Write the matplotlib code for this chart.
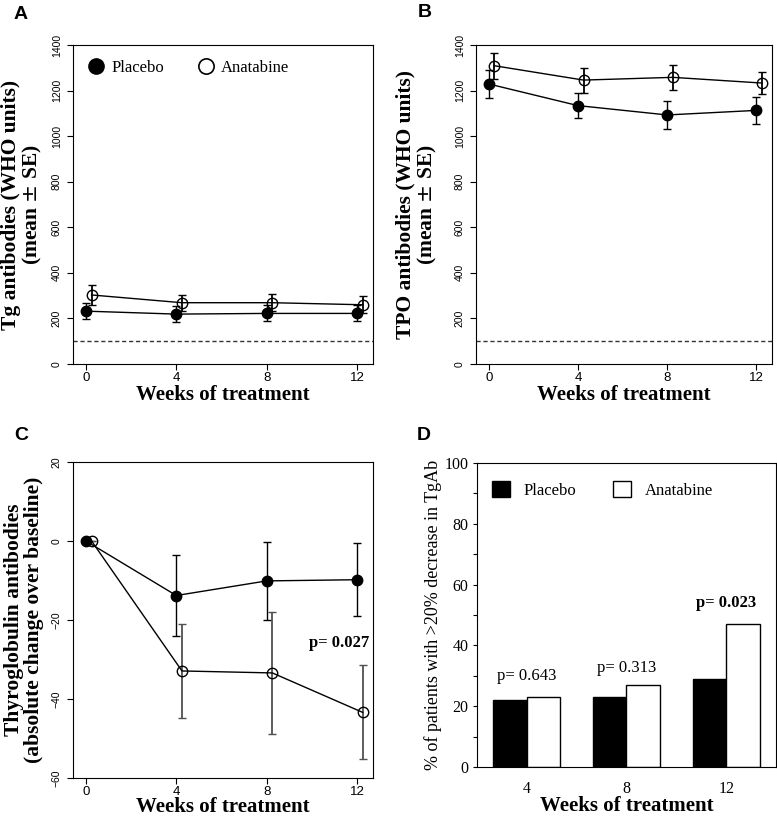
import matplotlib
matplotlib.use('Agg')
import matplotlib.pyplot as plt
from matplotlib.lines import Line2D
import numpy as np

# data
weeks = [0, 4, 8, 12]
shift = 0.25  # anatabine points drawn slightly to the right

tg_placebo = [232, 219, 222, 222]
tg_placebo_se = [36, 36, 35, 35]
tg_anat = [303, 269, 269, 260]
tg_anat_se = [42, 36, 37, 38]

tpo_placebo = [1229, 1134, 1093, 1113]
tpo_placebo_se = [61, 56, 60, 58]
tpo_anat = [1309, 1246, 1258, 1233]
tpo_anat_se = [57, 55, 56, 48]

chg_placebo = [0, -13.8, -10.1, -9.8]
chg_placebo_se = [0, 10.3, 9.8, 9.3]
chg_anat = [0, -32.9, -33.4, -43.4]
chg_anat_se = [0, 11.8, 15.5, 11.9]

bar_weeks = ['4', '8', '12']
pct_placebo = [22, 23, 29]
pct_anat = [23, 27, 47]
p_bars = ['p= 0.643', 'p= 0.313', 'p= 0.023']
p_bar_y = [30, 32.6, 54]

lod = 100  # dashed reference line

serif = 'Liberation Serif'
sans = 'Liberation Sans'

plt.rcParams['font.family'] = sans
plt.rcParams['axes.linewidth'] = 0.8
plt.rcParams['xtick.major.width'] = 0.8
plt.rcParams['ytick.major.width'] = 0.8
plt.rcParams['ytick.minor.width'] = 0.8

fig = plt.figure(figsize=(7.77, 8.18), dpi=100)

axA = fig.add_axes([0.094, 0.555, 0.386, 0.390])
axB = fig.add_axes([0.6126, 0.555, 0.381, 0.390])
axC = fig.add_axes([0.094, 0.0489, 0.386, 0.3863])
axD = fig.add_axes([0.6139, 0.0623, 0.3848, 0.3716])

wk_anat = [w + shift for w in weeks]


def line_panel(ax, yp, yp_se, ya, ya_se, yticks, anat_bar_color='black'):
    ax.errorbar(weeks, yp, yerr=yp_se, fmt='-o', color='black', ms=7.5,
                mfc='black', mec='black', lw=1, elinewidth=1,
                capsize=3, capthick=1, zorder=3)
    ax.errorbar(wk_anat, ya, yerr=ya_se, fmt='-o', color='black', ms=7.5,
                mfc='none', mec='black', mew=1, lw=1, elinewidth=1.3,
                ecolor=anat_bar_color, capsize=3, capthick=1.3, zorder=3)
    ax.set_xlim(-0.57, 12.7)
    ax.set_ylim(yticks[0], yticks[-1])
    ax.set_xticks(weeks)
    ax.set_yticks(yticks)
    ax.tick_params(axis='x', length=4, pad=2, labelsize=9.5)
    ax.tick_params(axis='y', length=4, pad=4, labelsize=7.5, labelrotation=90)
    for t in ax.get_yticklabels():
        t.set_verticalalignment('center')
    ax.set_xlabel('Weeks of treatment', family=serif, fontweight='bold',
                  fontsize=15, va='baseline')


# A
line_panel(axA, tg_placebo, tg_placebo_se, tg_anat, tg_anat_se,
           list(range(0, 1401, 200)))
axA.axhline(lod, ls='--', dashes=(3, 2), color='#333333', lw=1)
axA.set_ylabel('Tg antibodies (WHO units)\n(mean $\\pm$ SE)', family=serif,
               fontweight='bold', fontsize=15.5, linespacing=1.0, va='center')
axA.yaxis.set_label_coords(-0.168, 0.5)
axA.xaxis.set_label_coords(0.5, -0.113)
leg_p = Line2D([], [], ls='none', marker='o', ms=11, mfc='black', mec='black')
leg_a = Line2D([], [], ls='none', marker='o', ms=11, mfc='none', mec='black',
               mew=1.2)
axA.legend([leg_p, leg_a], ['Placebo', 'Anatabine'], ncol=2, loc='upper left',
           bbox_to_anchor=(0.0, 1.0), frameon=False,
           handlelength=1.0, handletextpad=0.4, columnspacing=2.0,
           prop={'family': serif, 'size': 12})

# B
line_panel(axB, tpo_placebo, tpo_placebo_se, tpo_anat, tpo_anat_se,
           list(range(0, 1401, 200)))
axB.axhline(lod, ls='--', dashes=(3, 2), color='#333333', lw=1)
axB.set_ylabel('TPO antibodies (WHO units)\n(mean $\\pm$ SE)', family=serif,
               fontweight='bold', fontsize=15.5, linespacing=1.0, va='center')
axB.yaxis.set_label_coords(-0.199, 0.5)
axB.xaxis.set_label_coords(0.5, -0.113)

# C
line_panel(axC, chg_placebo, chg_placebo_se, chg_anat, chg_anat_se,
           list(range(-60, 21, 20)), anat_bar_color='#505050')
axC.set_ylabel('Thyroglobulin antibodies\n(absolute change over baseline)',
               family=serif, fontweight='bold', fontsize=15.5, linespacing=1.0,
               va='center')
axC.yaxis.set_label_coords(-0.163, 0.5)
axC.xaxis.set_label_coords(0.5, -0.1076)
axC.text(11.2, -25.8, 'p= 0.027', family=serif, fontweight='bold',
         fontsize=12, ha='center', va='center')

# D
pos = np.arange(1, len(bar_weeks) + 1)
w = 0.335
axD.bar(pos - w / 2, pct_placebo, w, color='black', edgecolor='black', lw=1)
axD.bar(pos + w / 2, pct_anat, w, color='white', edgecolor='black', lw=1)
axD.set_xlim(0.5, 3.5)
axD.set_ylim(0, 100)
axD.set_xticks(pos)
axD.set_xticklabels(bar_weeks, family=serif, fontsize=11.5)
axD.set_yticks(range(0, 101, 20))
axD.set_yticks(range(10, 100, 20), minor=True)
axD.set_yticklabels([str(v) for v in range(0, 101, 20)], family=serif,
                    fontsize=11.5)
axD.tick_params(axis='x', length=0, pad=10)
axD.tick_params(axis='y', which='both', length=3, pad=3)
for i, txt in enumerate(p_bars):
    axD.text(pos[i], p_bar_y[i], txt, family=serif, fontsize=12,
             fontweight='bold' if i == 2 else 'normal',
             ha='center', va='center')
axD.set_xlabel('Weeks of treatment', family=serif, fontweight='bold',
               fontsize=15, va='baseline')
axD.xaxis.set_label_coords(0.5, -0.1447)
axD.set_ylabel('% of patients with >20% decrease in TgAb', family=serif,
               fontsize=13, va='center')
axD.yaxis.set_label_coords(-0.147, 0.5)
leg_bp = plt.Rectangle((0, 0), 1, 1, fc='black', ec='black')
leg_ba = plt.Rectangle((0, 0), 1, 1, fc='white', ec='black')
axD.legend([leg_bp, leg_ba], ['Placebo', 'Anatabine'], ncol=2,
           loc='upper left', bbox_to_anchor=(0.0, 0.99), frameon=False,
           handlelength=1.1, handleheight=1.1, handletextpad=0.8,
           columnspacing=2.2, prop={'family': serif, 'size': 12})

# panel letters
for lab, x, y in [('A', 0.026, 0.982), ('B', 0.547, 0.985),
                  ('C', 0.027, 0.468), ('D', 0.545, 0.468)]:
    fig.text(x, y, lab, fontsize=14, fontweight='bold', family=sans,
             ha='center', va='center')

fig.savefig('out.png', dpi=100)
